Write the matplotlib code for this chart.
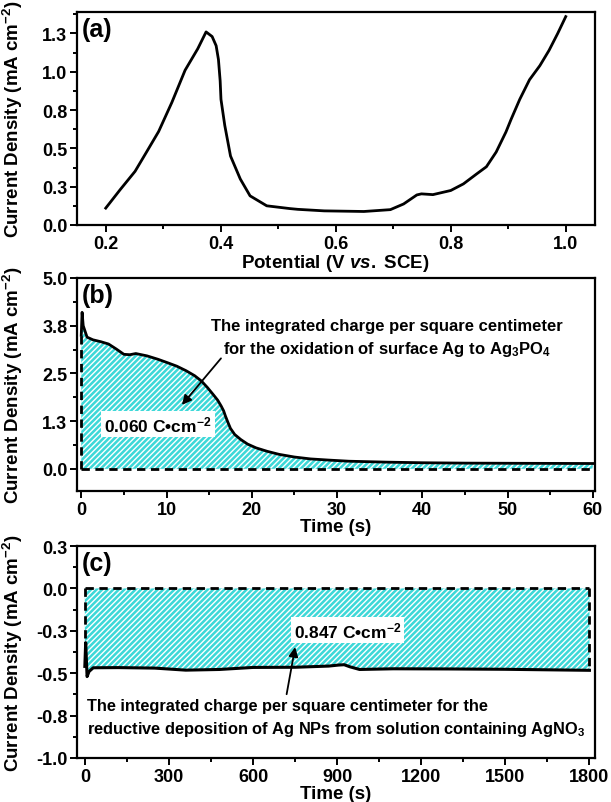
import numpy as np
import matplotlib
matplotlib.use("Agg")
import matplotlib.pyplot as plt
from matplotlib.ticker import MultipleLocator, FuncFormatter

plt.rcParams['font.family'] = ['Liberation Sans', 'DejaVu Sans']
plt.rcParams['font.weight'] = 'bold'
plt.rcParams['axes.labelweight'] = 'bold'
plt.rcParams['mathtext.fontset'] = 'custom'
plt.rcParams['mathtext.rm'] = 'Liberation Sans:bold'
plt.rcParams['mathtext.bf'] = 'Liberation Sans:bold'
plt.rcParams['mathtext.it'] = 'Liberation Sans:bold:italic'
plt.rcParams['mathtext.default'] = 'bf'
plt.rcParams['hatch.linewidth'] = 1.0

# (a) linear sweep voltammogram
pot = [0.2, 0.225, 0.251, 0.27, 0.292, 0.315, 0.338, 0.36, 0.3745, 0.385, 0.392,
       0.396, 0.399, 0.4004, 0.407, 0.417, 0.434, 0.451, 0.48, 0.52, 0.534, 0.58,
       0.649, 0.695, 0.718, 0.741, 0.749, 0.769, 0.8, 0.822, 0.845, 0.862, 0.879,
       0.896, 0.905, 0.92, 0.937, 0.955, 0.971, 0.986, 1.0]
cur_a = [0.11, 0.23, 0.35, 0.47, 0.61, 0.80, 1.01, 1.15, 1.26, 1.23, 1.17,
         1.08, 0.94, 0.82, 0.65, 0.45, 0.30, 0.19, 0.125, 0.107, 0.102, 0.092,
         0.088, 0.1, 0.137, 0.196, 0.203, 0.198, 0.225, 0.268, 0.333, 0.38, 0.476,
         0.607, 0.69, 0.82, 0.948, 1.04, 1.14, 1.25, 1.36]

# (b) oxidation transient
t_b = [0, 0.1, 0.23, 0.68, 1.37, 2.3, 3.2, 4.1, 5.0, 5.7, 6.4, 7.7, 9.0, 10, 11.2, 12.3,
       13.3, 14.1, 14.8, 15.5, 16.0, 16.4, 16.7, 16.9, 17.2, 17.5, 18.0, 18.7, 19.5,
       20.5, 21.8, 23.2, 25.0, 26.9, 29.0, 31.4, 36, 40, 45.1, 52, 60]
cur_b = [3.5, 4.1, 3.75, 3.45, 3.38, 3.33, 3.27, 3.14, 3.0, 2.99, 3.02, 2.96, 2.87, 2.79,
         2.69, 2.57, 2.44, 2.30, 2.13, 1.94, 1.80, 1.65, 1.52, 1.39, 1.22, 1.06, 0.90,
         0.77, 0.65, 0.55, 0.46, 0.38, 0.31, 0.26, 0.23, 0.2, 0.175, 0.16, 0.15, 0.145,
         0.14]

# (c) reduction transient
t_c = [0, 3, 8, 15, 30, 120, 250, 360, 480, 600, 750, 870, 905, 925, 945, 980, 1100,
       1300, 1500, 1650, 1800]
cur_c = [-0.46, -0.32, -0.52, -0.49, -0.468, -0.467, -0.47, -0.482, -0.478, -0.466,
         -0.465, -0.458, -0.452, -0.45, -0.462, -0.478, -0.474, -0.475, -0.477, -0.48,
         -0.483]

fill_col = '#3dd8d8'
tick_fs = 13
lab_fs = 13.5


def half_up(v, pos):
    r = np.sign(v) * np.floor(abs(v) * 10 + 0.5 + 1e-9) / 10 + 0.0
    return '%.1f' % r


def style(ax):
    for s in ax.spines.values():
        s.set_linewidth(1.6)
    ax.tick_params(which='both', direction='out', width=1.4, labelsize=tick_fs, pad=2)
    ax.tick_params(which='major', length=5)
    ax.tick_params(which='minor', length=3)
    ax.yaxis.set_major_formatter(FuncFormatter(half_up))
    ax.set_ylabel('Current Density (mA cm$^{-2}$)', fontsize=lab_fs)
    ax.yaxis.set_label_coords(-0.1, 0.5)


fig = plt.figure(figsize=(6.11, 8.03), dpi=100)
ax1 = fig.add_axes([0.126, 0.7186, 0.847, 0.2652])
ax2 = fig.add_axes([0.126, 0.3873, 0.847, 0.2653])
ax3 = fig.add_axes([0.126, 0.0548, 0.847, 0.264])

# panel (a)
ax1.plot(pot, cur_a, color='black', lw=2.0, solid_joinstyle='round')
ax1.set_xlim(0.15, 1.05)
ax1.set_ylim(0, 1.39)
ax1.xaxis.set_major_locator(MultipleLocator(0.2))
ax1.xaxis.set_minor_locator(MultipleLocator(0.1))
ax1.yaxis.set_major_locator(MultipleLocator(0.25))
ax1.yaxis.set_minor_locator(MultipleLocator(0.125))
ax1.xaxis.set_major_formatter(FuncFormatter(lambda v, p: '%.1f' % v))
style(ax1)
ax1.set_xlabel('Potential (V $\\mathit{vs.}$ SCE)', fontsize=lab_fs, labelpad=0)
ax1.text(0.01, 0.975, '(a)', transform=ax1.transAxes, fontsize=18, va='top')

# panel (b)
ax2.fill_between(t_b, 0, cur_b, facecolor=fill_col, edgecolor='white', hatch='//////', lw=0)
ax2.plot(t_b, cur_b, color='black', lw=2.0, solid_joinstyle='round')
ax2.plot([0, 60], [0, 0], color='black', lw=2.0, ls=(0, (3, 2)))
ax2.plot([0, 0], [0, cur_b[0]], color='black', lw=2.0, ls=(0, (3, 2)))
ax2.set_xlim(-0.5, 60.2)
ax2.set_ylim(-0.58, 5.0)
ax2.xaxis.set_major_locator(MultipleLocator(10))
ax2.xaxis.set_minor_locator(MultipleLocator(5))
ax2.yaxis.set_major_locator(MultipleLocator(1.25))
ax2.yaxis.set_minor_locator(MultipleLocator(0.625))
style(ax2)
ax2.set_xlabel('Time (s)', fontsize=lab_fs, labelpad=0)
ax2.text(0.01, 0.975, '(b)', transform=ax2.transAxes, fontsize=18, va='top')
ax2.annotate('', xy=(11.6, 1.62), xytext=(16.6, 2.95),
             arrowprops=dict(arrowstyle='-|>', color='black', lw=1.3, mutation_scale=14))
ax2.text(35.8, 3.42, 'The integrated charge per square centimeter\n'
         'for the oxidation of surface Ag to Ag$_3$PO$_4$',
         ha='center', va='center', fontsize=12, linespacing=1.4)
ax2.text(9.0, 1.17, '0.060 C\u2022cm$^{-2}$', ha='center', va='center', fontsize=12.5,
         bbox=dict(facecolor='white', edgecolor='none', pad=2))

# panel (c)
ax3.fill_between(t_c, 0, cur_c, facecolor=fill_col, edgecolor='white', hatch='//////', lw=0)
ax3.plot(t_c, cur_c, color='black', lw=2.2, solid_joinstyle='round')
ax3.plot([0, 1800], [0, 0], color='black', lw=2.0, ls=(0, (3, 2)))
ax3.plot([0, 0], [0, cur_c[0]], color='black', lw=2.0, ls=(0, (3, 2)))
ax3.plot([1800, 1800], [0, cur_c[-1]], color='black', lw=2.0, ls=(0, (3, 2)))
ax3.set_xlim(-28, 1818)
ax3.set_ylim(-1.0, 0.25)
ax3.xaxis.set_major_locator(MultipleLocator(300))
ax3.xaxis.set_minor_locator(MultipleLocator(150))
ax3.yaxis.set_major_locator(MultipleLocator(0.25))
ax3.yaxis.set_minor_locator(MultipleLocator(0.125))
style(ax3)
ax3.set_xlabel('Time (s)', fontsize=lab_fs, labelpad=0)
ax3.text(0.01, 0.975, '(c)', transform=ax3.transAxes, fontsize=18, va='top')
ax3.annotate('', xy=(752, -0.33), xytext=(718, -0.64),
             arrowprops=dict(arrowstyle='-|>', color='black', lw=1.3, mutation_scale=14))
ax3.text(937, -0.245, '0.847 C\u2022cm$^{-2}$', ha='center', va='center', fontsize=12.5,
         bbox=dict(facecolor='white', edgecolor='none', pad=2))
ax3.text(6, -0.765, 'The integrated charge per square centimeter for the\n'
         'reductive deposition of Ag NPs from solution containing AgNO$_3$',
         ha='left', va='center', fontsize=11.8, linespacing=1.4)

fig.savefig('out.png', dpi=100)
